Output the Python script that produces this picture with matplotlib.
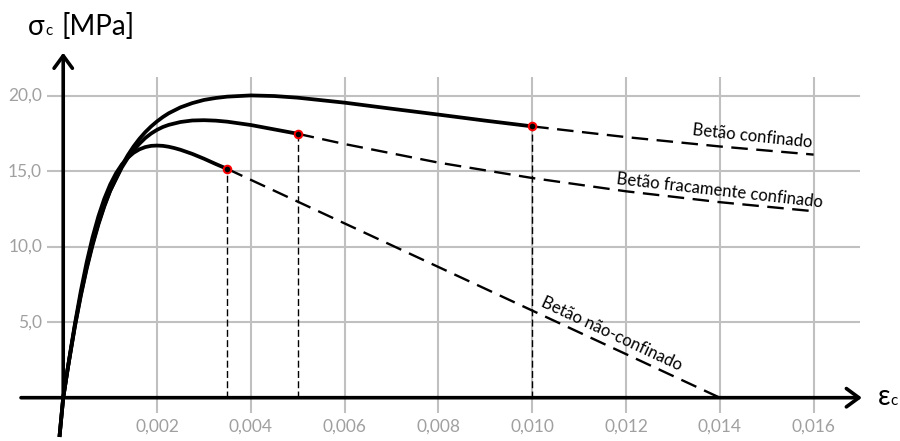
import matplotlib.pyplot as plt

plt.rcParams['font.family'] = ['Lato', 'Open Sans', 'DejaVu Sans']

# strain [-] and stress [MPa] for the three concrete models
# unconfined concrete (solid part up to the end point)
eps_nc = [-0.00008, 0.0, 0.00005, 0.00015, 0.00025, 0.000375, 0.0005, 0.000625,
          0.00075, 0.000875, 0.001, 0.001125, 0.00125, 0.001375, 0.0015,
          0.001625, 0.00175, 0.001875, 0.002, 0.002125, 0.00225, 0.002375,
          0.0025, 0.00275, 0.003, 0.00325, 0.0035]
sig_nc = [-2.6, 0.0, 1.0, 3.0, 4.9, 7.06, 8.97, 10.62,
          12.01, 13.17, 14.11, 14.86, 15.45, 15.89, 16.22,
          16.45, 16.6, 16.68, 16.7, 16.68, 16.62, 16.53,
          16.42, 16.15, 15.83, 15.48, 15.15]
eps_nc_dash = [0.0035, 0.0140]
sig_nc_dash = [15.15, 0.0]

# lightly confined concrete
eps_lc = [-0.00008, 0.0, 0.0001, 0.00025, 0.000375, 0.0005, 0.000625, 0.00075,
          0.000875, 0.001, 0.00125, 0.001375, 0.0015, 0.001625, 0.00175, 0.001875,
          0.002, 0.002125, 0.00225, 0.0025, 0.00275, 0.003, 0.00325, 0.0035,
          0.004, 0.0045, 0.005]
sig_lc = [-2.6, 0.0, 2.01, 4.78, 6.83, 8.64, 10.21, 11.56,
          12.72, 13.71, 15.25, 15.87, 16.38, 16.82, 17.2, 17.5,
          17.74, 17.93, 18.07, 18.26, 18.36, 18.38, 18.35, 18.28,
          18.06, 17.77, 17.48]
eps_lc_dash = [0.005, 0.006, 0.008, 0.010, 0.012, 0.014, 0.016]
sig_lc_dash = [17.48, 16.8, 15.57, 14.55, 13.67, 12.95, 12.35]

# confined concrete
eps_cc = [-0.00008, 0.0, 0.0001, 0.00025, 0.000375, 0.0005, 0.000625, 0.00075,
          0.000875, 0.001, 0.00125, 0.001375, 0.0015, 0.001625, 0.00175, 0.001875,
          0.002, 0.002125, 0.00225, 0.0025, 0.00275, 0.003, 0.00325, 0.0035,
          0.004, 0.0045, 0.005, 0.006, 0.007, 0.008, 0.009, 0.010]
sig_cc = [-2.6, 0.0, 2.0, 4.74, 6.75, 8.54, 10.1, 11.47,
          12.66, 13.69, 15.37, 16.05, 16.64, 17.15, 17.59, 17.97,
          18.3, 18.59, 18.84, 19.23, 19.51, 19.72, 19.85, 19.94,
          20.02, 19.98, 19.87, 19.54, 19.14, 18.75, 18.35, 17.97]
eps_cc_dash = [0.010, 0.012, 0.014, 0.016]
sig_cc_dash = [17.97, 17.26, 16.64, 16.1]

x_ticks = [0.002, 0.004, 0.006, 0.008, 0.010, 0.012, 0.014, 0.016]
x_tick_labels = ["0,002", "0,004", "0,006", "0,008", "0,010", "0,012", "0,014", "0,016"]
y_ticks = [5, 10, 15, 20]
y_tick_labels = ["5,0", "10,0", "15,0", "20,0"]

fig = plt.figure(figsize=(9, 4.41), dpi=100)
ax = fig.add_axes([0, 0, 1, 1])
ax.set_xlim(-0.001348, 0.017842)
ax.set_ylim(-2.868, 26.34)
ax.axis('off')

grid_c = '#c0c0c0'
ax.vlines(x_ticks, -1.0, 21.25, color=grid_c, lw=1.5, zorder=1)
ax.hlines(y_ticks, -0.000345, 0.01699, color=grid_c, lw=1.5, zorder=1)

lab_c = '#a0a0a0'
for x, lab in zip(x_ticks, x_tick_labels):
    ax.text(x, -1.9, lab, ha='center', va='center', color=lab_c, fontsize=12.5)
for y, lab in zip(y_ticks, y_tick_labels):
    ax.text(-0.00045, y, lab, ha='right', va='center', color=lab_c, fontsize=12.5)

# axes with arrow heads
arrow = dict(arrowstyle='->,head_length=0.45,head_width=0.33', lw=2.6,
             color='k', shrinkA=0, shrinkB=0, mutation_scale=20)
ax.annotate('', xy=(0.01703, 0), xytext=(-0.0009, 0), arrowprops=arrow, zorder=4)
ax.annotate('', xy=(0, 22.85), xytext=(0, 0), arrowprops=arrow, zorder=4)

# dashed verticals at the end points
ends = [(eps_nc[-1], sig_nc[-1]), (eps_lc[-1], sig_lc[-1]), (eps_cc[-1], sig_cc[-1])]
for ex, ey in ends:
    ax.plot([ex, ex], [0, ey], color='k', lw=1.0, dashes=(5, 2.4), zorder=2)

# dashed continuations
for xs, ys in [(eps_nc_dash, sig_nc_dash), (eps_lc_dash, sig_lc_dash), (eps_cc_dash, sig_cc_dash)]:
    ax.plot(xs, ys, color='k', lw=1.7, dashes=(7, 3.6), zorder=3)

# solid curves
for xs, ys in [(eps_nc, sig_nc), (eps_lc, sig_lc), (eps_cc, sig_cc)]:
    ax.plot(xs, ys, color='k', lw=2.7, solid_capstyle='butt', solid_joinstyle='round', zorder=5)

for ex, ey in ends:
    ax.plot(ex, ey, 'o', ms=5.5, mfc='k', mec='#ff0000', mew=1.4, zorder=6)

# curve labels
ax.text(0.01469, 17.33, "Betão confinado", rotation=-6, ha='center', va='center',
        rotation_mode='anchor', fontsize=12)
ax.text(0.0140, 13.68, "Betão fracamente confinado", rotation=-6.5, ha='center',
        va='center', rotation_mode='anchor', fontsize=12)
ax.text(0.01169, 4.22, "Betão não-confinado", rotation=-25, ha='center',
        va='center', rotation_mode='anchor', fontsize=12)

# axis titles
fig.text(28 / 900, 1 - 35 / 441, "σ", fontsize=20, va='baseline', ha='left')
fig.text(45 / 900, 1 - 35 / 441, "c", fontsize=11, va='baseline', ha='left')
fig.text(62 / 900, 1 - 35 / 441, "[MPa]", fontsize=20, va='baseline', ha='left')
fig.text(878 / 900, 1 - 405 / 441, "ε", fontsize=20, va='baseline', ha='left')
fig.text(890 / 900, 1 - 405 / 441, "c", fontsize=11, va='baseline', ha='left')

fig.savefig("out.png", dpi=100)
